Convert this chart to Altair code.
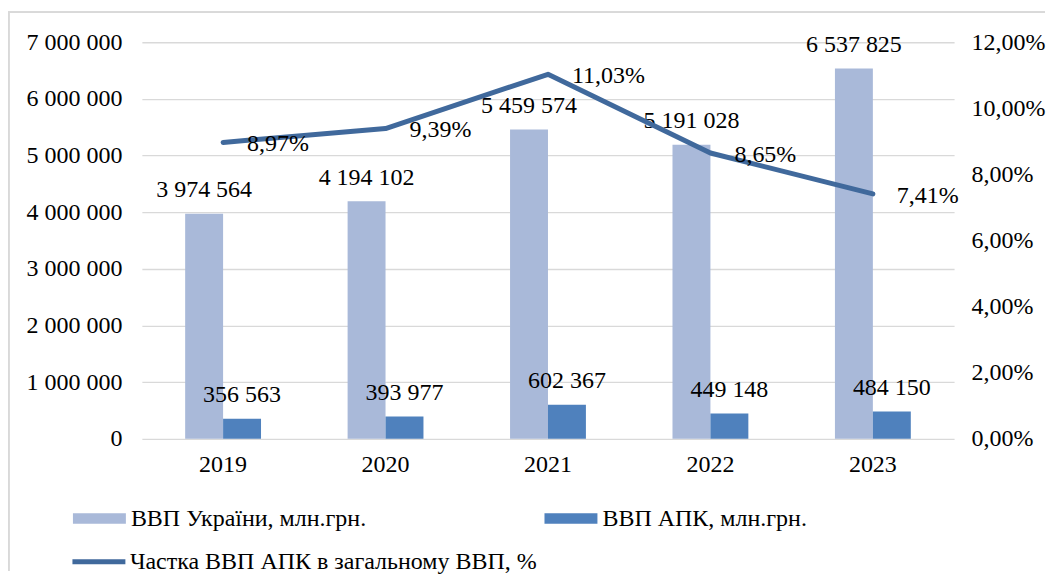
import altair as alt
import pandas as pd

years = ["2019", "2020", "2021", "2022", "2023"]
gdp_ukraine = [3974564, 4194102, 5459574, 5191028, 6537825]
gdp_apk = [356563, 393977, 602367, 449148, 484150]
share_pct = [8.97, 9.39, 11.03, 8.65, 7.41]

bar_series = ["ВВП України, млн.грн.", "ВВП АПК, млн.грн."]
line_series = "Частка ВВП АПК в загальному ВВП, %"

left_ticks = [0, 1000000, 2000000, 3000000, 4000000, 5000000, 6000000, 7000000]
right_ticks = [0, 0.02, 0.04, 0.06, 0.08, 0.10, 0.12]

LIGHT = "#A9B9D9"
DARK = "#4F81BD"
LINE = "#40699C"
FRAME = "#D9D9D9"
FONT = "'Liberation Serif', 'Times New Roman', 'DejaVu Serif', serif"
FS = 24

bars_df = pd.DataFrame({
    "year": years * 2,
    "series": [bar_series[0]] * len(years) + [bar_series[1]] * len(years),
    "value": gdp_ukraine + gdp_apk,
})
line_df = pd.DataFrame({
    "year": years,
    "share": [v / 100 for v in share_pct],
    "series": [line_series] * len(years),
})

x_enc = alt.X(
    "year:N", sort=years,
    scale=alt.Scale(paddingInner=0.533, paddingOuter=0.2665),
    axis=alt.Axis(title=None, labelAngle=0, labelFont=FONT, labelFontSize=FS,
                  labelColor="#000000", ticks=False, domain=False, labelPadding=14),
)
xoff = alt.XOffset("series:N", sort=bar_series,
                   scale=alt.Scale(domain=bar_series, paddingInner=0, paddingOuter=0))

rect_path = "M-1,-0.2H1V0.2H-1Z"

bars = alt.Chart(bars_df).mark_bar().encode(
    x=x_enc,
    xOffset=xoff,
    y=alt.Y("value:Q", scale=alt.Scale(domain=[0, 7000000], nice=False),
            axis=alt.Axis(title=None, values=left_ticks, format=",d", labelFont=FONT,
                          labelFontSize=FS, labelColor="#000000", ticks=False, domain=False,
                          labelPadding=20, grid=True, gridColor="#D9D9D9", gridWidth=1.3)),
    color=alt.Color("series:N", sort=bar_series,
                    scale=alt.Scale(domain=bar_series, range=[LIGHT, DARK]),
                    legend=alt.Legend(title=None, orient="none", legendX=-69, legendY=450,
                                      direction="horizontal", columns=2, columnPadding=178,
                                      symbolType=rect_path, symbolSize=2809, symbolStrokeWidth=0,
                                      labelFont=FONT, labelFontSize=FS, labelColor="#000000",
                                      labelOffset=5, padding=0, labelLimit=600)),
)
bar_labels = alt.Chart(bars_df).mark_text(
    font=FONT, fontSize=FS, color="#000000", baseline="alphabetic", dy=-16.5
).encode(
    x=alt.X("year:N", sort=years),
    xOffset=xoff,
    y=alt.Y("value:Q", scale=alt.Scale(domain=[0, 7000000], nice=False)),
    text=alt.Text("value:Q", format=",d"),
)

# light grey frame of the chart area (top and left edges)
frame_top = alt.Chart(bars_df).mark_rule(color=FRAME, strokeWidth=1.5).encode(
    x=alt.value(-134), x2=alt.value(904), y=alt.value(-30)
)
frame_left = alt.Chart(bars_df).mark_rule(color=FRAME, strokeWidth=1.5).encode(
    x=alt.value(-133.5), y=alt.value(-30), y2=alt.value(529)
)

line = alt.Chart(line_df).mark_line(strokeWidth=5, strokeCap="round", strokeJoin="round").encode(
    x=alt.X("year:N", sort=years),
    y=alt.Y("share:Q", scale=alt.Scale(domain=[0, 0.12], nice=False),
            axis=alt.Axis(title=None, orient="right", values=right_ticks, format=".2%",
                          labelFont=FONT, labelFontSize=FS, labelColor="#000000",
                          ticks=False, domain=False, grid=False, labelPadding=17)),
    stroke=alt.Stroke("series:N", scale=alt.Scale(domain=[line_series], range=[LINE]),
                      legend=alt.Legend(title=None, orient="none", legendX=-72, legendY=491,
                                        symbolType="stroke", symbolSize=2809, symbolStrokeWidth=5,
                                        labelFont=FONT, labelFontSize=FS, labelColor="#000000",
                                        labelOffset=2, padding=0, labelLimit=800)),
)
line_labels = alt.Chart(line_df).mark_text(
    font=FONT, fontSize=FS, color="#000000", align="left", baseline="middle", dx=24, dy=2
).encode(
    x=alt.X("year:N", sort=years),
    y=alt.Y("share:Q", scale=alt.Scale(domain=[0, 0.12], nice=False)),
    text=alt.Text("share:Q", format=".2%"),
)

left = alt.layer(frame_top, frame_left, bars, bar_labels)
right = alt.layer(line, line_labels)

chart = alt.layer(left, right).resolve_scale(y="independent", color="independent").properties(
    width=813, height=397,
    autosize=alt.AutoSizeParams(type="none"),
    padding={"left": 134, "top": 34, "right": 92, "bottom": 140},
).configure(
    locale={"number": {"decimal": ",", "thousands": " ", "grouping": [3], "currency": ["", ""]}}
).configure_view(strokeWidth=0)

chart.save("out.html", embed_options={"renderer": "svg", "actions": False})
